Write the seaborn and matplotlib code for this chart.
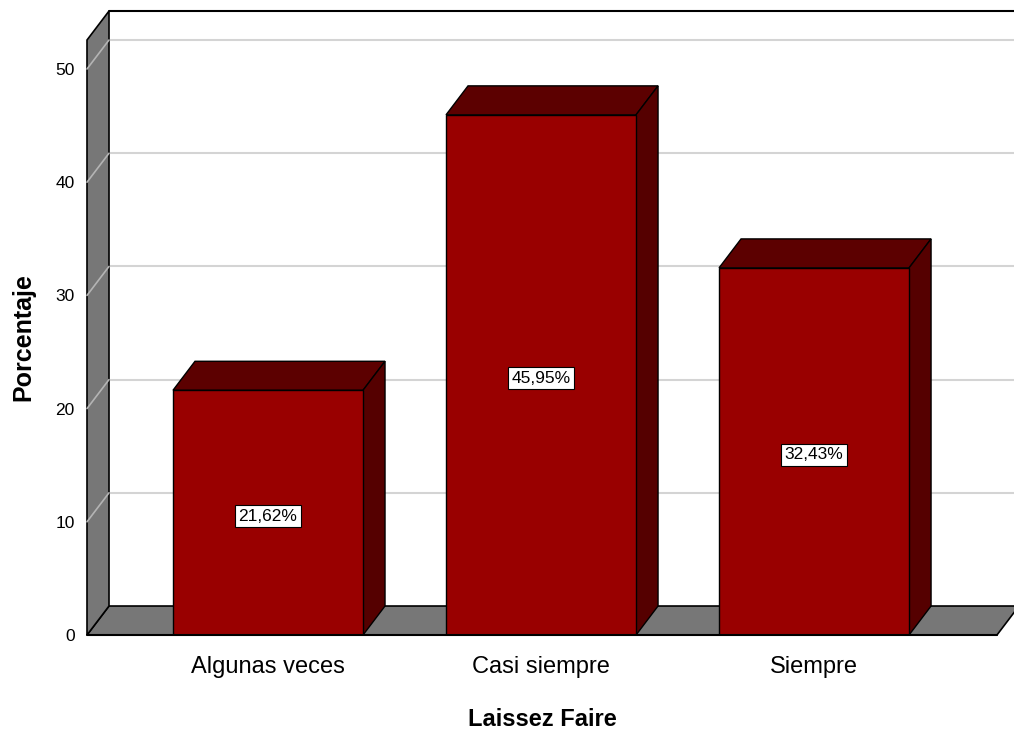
import numpy as np
import pandas as pd
import seaborn as sns
import matplotlib.pyplot as plt
from matplotlib.patches import Polygon

categorias = ["Algunas veces", "Casi siempre", "Siempre"]
porcentajes = [21.62, 45.95, 32.43]
etiquetas = ["21,62%", "45,95%", "32,43%"]
yticks = [0, 10, 20, 30, 40, 50]

sns.set_style("white")
plt.rcParams['font.family'] = ['Liberation Sans', 'DejaVu Sans']
plt.rcParams['text.color'] = 'black'
plt.rcParams['axes.labelcolor'] = 'black'
plt.rcParams['xtick.color'] = 'black'
plt.rcParams['ytick.color'] = 'black'

df = pd.DataFrame({"cat": categorias, "pct": porcentajes})

fig = plt.figure(figsize=(10.14, 7.33), dpi=100)
ax = fig.add_axes([0.0858, 0.1337, 0.8974, 0.8117])

x0, x1 = -0.663, 2.670
ymax = 52.56
dx, dy = 0.0806, 2.56      # profundidad 3D en unidades de datos
xr = 2.74                  # borde derecho de la pared del fondo

# suelo y pared izquierda
gris = '#777777'
ax.add_patch(Polygon([(x0, 0), (x1, 0), (x1 + dx, dy), (x0 + dx, dy)],
                     closed=True, fc=gris, ec='black', lw=1.2, zorder=1, clip_on=False))
ax.add_patch(Polygon([(x0, 0), (x0, ymax), (x0 + dx, ymax + dy), (x0 + dx, dy)],
                     closed=True, fc=gris, ec='black', lw=1.2, zorder=1, clip_on=False))

# rejilla en pared del fondo y pared izquierda
for v in yticks[1:]:
    ax.plot([x0 + dx, xr], [v + dy, v + dy], color='#d4d4d4', lw=1.5, zorder=0.5, clip_on=False)
    ax.plot([x0, x0 + dx], [v, v + dy], color='#b4b4b4', lw=1.2, zorder=1.5, clip_on=False)
ax.plot([x0 + dx, xr], [ymax + dy, ymax + dy], color='black', lw=1.5, zorder=2, clip_on=False)

# barras frontales
sns.barplot(data=df, x="cat", y="pct", ax=ax, color='#990000', width=0.696,
            edgecolor='black', linewidth=1.0, saturation=1, zorder=3)

oscuro = '#5c0000'
for p, lab in zip(ax.containers[0], etiquetas):
    bx0 = p.get_x()
    bx1 = bx0 + p.get_width()
    h = p.get_height()
    ax.add_patch(Polygon([(bx0, h), (bx1, h), (bx1 + dx, h + dy), (bx0 + dx, h + dy)],
                         closed=True, fc=oscuro, ec='black', lw=1.0, zorder=2.5, clip_on=False))
    ax.add_patch(Polygon([(bx1, 0), (bx1, h), (bx1 + dx, h + dy), (bx1 + dx, dy)],
                         closed=True, fc='#550000', ec='black', lw=1.0, zorder=2.5, clip_on=False))
    ax.text(bx0 + p.get_width() / 2, h / 2 - 0.3, lab, ha='center', va='center', fontsize=12.5,
            zorder=5, bbox=dict(boxstyle='square,pad=0.2', fc='white', ec='black', lw=0.8))

ax.plot([x0, x1], [0, 0], color='black', lw=1.5, zorder=4, clip_on=False)

ax.set_xlim(x0, x1)
ax.set_ylim(0, ymax)
ax.set_yticks(yticks)
ax.set_yticklabels([str(v) for v in yticks], fontsize=12.5)
ax.tick_params(axis='y', length=0, pad=9)
ax.tick_params(axis='x', length=0, pad=15, labelsize=17)
for s in ax.spines.values():
    s.set_visible(False)

ax.set_ylabel("Porcentaje", fontsize=18, fontweight='bold', labelpad=14)
ax.set_xlabel("Laissez Faire", fontsize=17, fontweight='bold', labelpad=22)

fig.savefig("out.png", dpi=100)
